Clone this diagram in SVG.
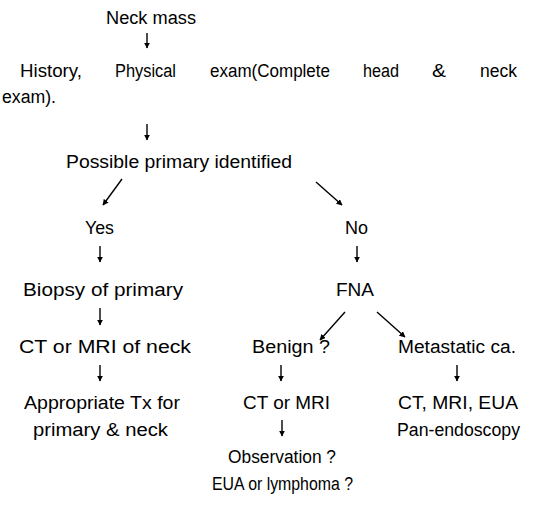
<svg xmlns="http://www.w3.org/2000/svg" width="537" height="512" viewBox="0 0 537 512">
<style>
text{font-family:"Liberation Sans",Arial,sans-serif;font-size:18px;fill:#000}
.c line{stroke:#000;stroke-width:1.4}
</style>
<defs>
<marker id="ah" viewBox="0 0 10 10" refX="9" refY="5" markerWidth="6" markerHeight="6" markerUnits="userSpaceOnUse" orient="auto"><path d="M0,0L10,5L0,10z" fill="#000"/></marker>
</defs>
<rect width="537" height="512" fill="#fff"/>
<g id="n1"><text x="106" y="24" textLength="90" lengthAdjust="spacingAndGlyphs">Neck mass</text></g>
<g id="n2">
<text y="77"><tspan x="20" textLength="62" lengthAdjust="spacingAndGlyphs">History,</tspan><tspan x="115" textLength="61" lengthAdjust="spacingAndGlyphs">Physical</tspan><tspan x="210" textLength="120" lengthAdjust="spacingAndGlyphs">exam(Complete</tspan><tspan x="363" textLength="36" lengthAdjust="spacingAndGlyphs">head</tspan><tspan x="432" textLength="14" lengthAdjust="spacingAndGlyphs">&amp;</tspan><tspan x="480" textLength="37" lengthAdjust="spacingAndGlyphs">neck</tspan></text>
<text x="2" y="103" textLength="54" lengthAdjust="spacingAndGlyphs">exam).</text>
</g>
<g id="n3"><text x="66" y="168" textLength="226" lengthAdjust="spacingAndGlyphs">Possible primary identified</text></g>
<g id="n4"><text x="85" y="234" textLength="29" lengthAdjust="spacingAndGlyphs">Yes</text></g>
<g id="n5"><text x="345" y="234" textLength="23" lengthAdjust="spacingAndGlyphs">No</text></g>
<g id="n6"><text x="23" y="296" textLength="160" lengthAdjust="spacingAndGlyphs">Biopsy of primary</text></g>
<g id="n7"><text x="336" y="296" textLength="38" lengthAdjust="spacingAndGlyphs">FNA</text></g>
<g id="n8"><text x="19" y="353" textLength="172" lengthAdjust="spacingAndGlyphs">CT or MRI of neck</text></g>
<g id="n9"><text x="252" y="353" textLength="78" lengthAdjust="spacingAndGlyphs">Benign ?</text></g>
<g id="n10"><text x="398" y="353" textLength="118" lengthAdjust="spacingAndGlyphs">Metastatic ca.</text></g>
<g id="n11"><text x="24" y="409" textLength="156" lengthAdjust="spacingAndGlyphs">Appropriate Tx for</text><text x="33" y="436" textLength="135" lengthAdjust="spacingAndGlyphs">primary &amp; neck</text></g>
<g id="n12"><text x="243" y="409" textLength="87" lengthAdjust="spacingAndGlyphs">CT or MRI</text></g>
<g id="n13"><text x="398" y="409" textLength="120" lengthAdjust="spacingAndGlyphs">CT, MRI, EUA</text><text x="397" y="436" textLength="123" lengthAdjust="spacingAndGlyphs">Pan-endoscopy</text></g>
<g id="n14"><text x="228" y="463" textLength="108" lengthAdjust="spacingAndGlyphs">Observation ?</text><text x="212" y="490" textLength="141" lengthAdjust="spacingAndGlyphs">EUA or lymphoma ?</text></g>
<g id="connectors" class="c">
<line x1="147" y1="33" x2="147" y2="48" marker-end="url(#ah)"/>
<line x1="147" y1="124" x2="147" y2="140" marker-end="url(#ah)"/>
<line x1="122" y1="179" x2="103" y2="205" marker-end="url(#ah)"/>
<line x1="316" y1="182" x2="342" y2="205" marker-end="url(#ah)"/>
<line x1="100" y1="246" x2="100" y2="262" marker-end="url(#ah)"/>
<line x1="357" y1="246" x2="357" y2="262" marker-end="url(#ah)"/>
<line x1="100" y1="308" x2="100" y2="325" marker-end="url(#ah)"/>
<line x1="345" y1="312" x2="320" y2="340" marker-end="url(#ah)"/>
<line x1="377" y1="312" x2="405" y2="337" marker-end="url(#ah)"/>
<line x1="100" y1="365" x2="100" y2="381" marker-end="url(#ah)"/>
<line x1="281" y1="365" x2="281" y2="381" marker-end="url(#ah)"/>
<line x1="457" y1="365" x2="457" y2="381" marker-end="url(#ah)"/>
<line x1="282" y1="420" x2="282" y2="436" marker-end="url(#ah)"/>
</g>
</svg>
